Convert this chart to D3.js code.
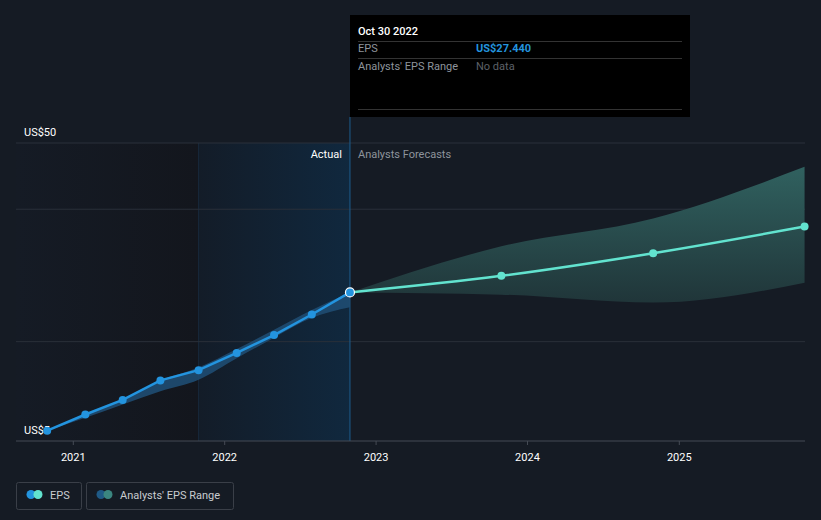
<!DOCTYPE html>
<html><head><meta charset="utf-8">
<script src="https://cdn.jsdelivr.net/npm/d3@7"></script>
<style>
html,body{margin:0;padding:0;background:#151b24;}
svg{display:block;font-family:Roboto,"Noto Sans",sans-serif;}
</style></head>
<body><svg id="c" width="821" height="520"></svg>
<script>
// ---- data ----
const actualDates = ["2020-10-30","2021-01-30","2021-04-30","2021-07-30","2021-10-30","2022-01-30","2022-04-30","2022-07-30","2022-10-30"];
const actualEPS   = [6.56, 9.0, 11.2, 14.15, 15.7, 18.3, 21.0, 24.1, 27.44];
const pastRangeLow  = [6.56, 8.5, 10.5, 12.5, 14.25, 17.5, 20.6, 23.6, 25.2];
const pastRangeHigh = [6.56, 9.0, 11.2, 14.15, 16.1, 18.9, 21.8, 24.8, 27.44];
const forecastDates = ["2022-10-30","2023-10-30","2024-10-30","2025-10-30"];
const forecastEPS   = [27.44, 29.94, 33.36, 37.38];
const forecastLow   = [27.44, 27.1, 25.9, 28.9];
const forecastHigh  = [27.44, 34.4, 38.6, 46.4];
const yearTicks = ["2021","2022","2023","2024","2025"];
const gridValues = [20, 40, 50];
const yLabels = [{v:50, t:"US$50"}, {v:5, t:"US$5"}];

const parse = d3.timeParse("%Y-%m-%d");
const svg = d3.select("#c");
const x = d3.scaleTime().domain([new Date(2021,0,1), new Date(2025,0,1)]).range([73.3, 679.3]);
const y = d3.scaleLinear().domain([5, 50]).range([441, 143]);
const L = 16, R = 805, B = 441;

const defs = svg.append("defs");
const g1 = defs.append("linearGradient").attr("id","pastG");
g1.append("stop").attr("offset","0").attr("stop-color","#151b25");
g1.append("stop").attr("offset","1").attr("stop-color","#13161d");
const g2 = defs.append("linearGradient").attr("id","hlG");
g2.append("stop").attr("offset","0").attr("stop-color","#131c28");
g2.append("stop").attr("offset","1").attr("stop-color","#10283e");
const g3 = defs.append("linearGradient").attr("id","fcG").attr("gradientUnits","userSpaceOnUse")
  .attr("x1",0).attr("x2",0).attr("y1",160).attr("y2",310);
g3.append("stop").attr("offset","0").attr("stop-color","#316361");
g3.append("stop").attr("offset","1").attr("stop-color","#1f3337");
defs.append("clipPath").attr("id","clip").append("rect").attr("x",L).attr("y",100).attr("width",R-L).attr("height",B-100);

const lastDate = parse(actualDates[actualDates.length-1]);
const hlStart = parse(actualDates[4]);
// backgrounds
svg.append("rect").attr("x",L).attr("y",143).attr("width",x(hlStart)-L).attr("height",B-143).attr("fill","url(#pastG)");
svg.append("rect").attr("x",x(hlStart)).attr("y",143).attr("width",x(lastDate)-x(hlStart)).attr("height",B-143).attr("fill","url(#hlG)");
svg.append("line").attr("x1",x(hlStart)).attr("x2",x(hlStart)).attr("y1",143).attr("y2",B).attr("stroke","#17283a").attr("stroke-width",1);

// gridlines
svg.selectAll(".grid").data(gridValues).enter().append("line")
  .attr("x1",L).attr("x2",R).attr("y1",d=>y(d)).attr("y2",d=>y(d))
  .attr("stroke","#2a303a").attr("stroke-width",1);

// separator
svg.append("line").attr("x1",x(lastDate)).attr("x2",x(lastDate)).attr("y1",117).attr("y2",B)
  .attr("stroke","#1d5c8e").attr("stroke-width",1);

// y labels
svg.selectAll(".yl").data(yLabels).enter().append("text")
  .attr("x",24).attr("y",d=>y(d.v)-7).attr("fill","#ffffff").attr("font-size",11).text(d=>d.t);

svg.append("text").attr("x",x(lastDate)-8).attr("y",158).attr("text-anchor","end").attr("fill","#ffffff").attr("font-size",11).text("Actual");
svg.append("text").attr("x",x(lastDate)+8).attr("y",158).attr("fill","#8e949c").attr("font-size",11).text("Analysts Forecasts");

const plot = svg.append("g").attr("clip-path","url(#clip)");
// past range band
const past = actualDates.map((d,i)=>({d:parse(d), v:actualEPS[i], lo:pastRangeLow[i], hi:pastRangeHigh[i]}));
plot.append("path").datum(past)
  .attr("d", d3.area().x(d=>x(d.d)).y0(d=>y(d.lo)).y1(d=>y(d.hi)).curve(d3.curveMonotoneX))
  .attr("fill","#1f4d72").attr("opacity",0.9);
// forecast band
const fc = forecastDates.map((d,i)=>({d:parse(d), v:forecastEPS[i], lo:forecastLow[i], hi:forecastHigh[i]}));
plot.append("path").datum(fc)
  .attr("d", d3.area().x(d=>x(d.d)).y0(d=>y(d.lo)).y1(d=>y(d.hi)).curve(d3.curveMonotoneX))
  .attr("fill","url(#fcG)");

// lines
plot.append("path").datum(fc).attr("d", d3.line().x(d=>x(d.d)).y(d=>y(d.v)).curve(d3.curveMonotoneX))
  .attr("fill","none").attr("stroke","#62e3cf").attr("stroke-width",2.5);
plot.append("path").datum(past).attr("d", d3.line().x(d=>x(d.d)).y(d=>y(d.v)))
  .attr("fill","none").attr("stroke","#2394df").attr("stroke-width",2.5);

// dots
svg.selectAll(".fd").data(fc.slice(1)).enter().append("circle")
  .attr("cx",d=>x(d.d)).attr("cy",d=>y(d.v)).attr("r",4).attr("fill","#62e3cf");
svg.selectAll(".ad").data(past.slice(0,-1)).enter().append("circle")
  .attr("cx",d=>x(d.d)).attr("cy",d=>y(d.v)).attr("r",4).attr("fill","#2394df");
svg.append("circle").datum(past[past.length-1]).attr("cx",d=>x(d.d)).attr("cy",d=>y(d.v)).attr("r",4.5)
  .attr("fill","#2394df").attr("stroke","#ffffff").attr("stroke-width",1.2);

// x axis
svg.append("line").attr("x1",L).attr("x2",R).attr("y1",B).attr("y2",B).attr("stroke","#454b55").attr("stroke-width",1);
const ticks = yearTicks.map(t=>new Date(+t,0,1));
svg.selectAll(".tk").data(ticks).enter().append("line")
  .attr("x1",d=>x(d)).attr("x2",d=>x(d)).attr("y1",B).attr("y2",B+4).attr("stroke","#454b55");
svg.selectAll(".tl").data(ticks).enter().append("text")
  .attr("x",d=>x(d)).attr("y",B+20).attr("text-anchor","middle").attr("fill","#ffffff").attr("font-size",11)
  .text((d,i)=>yearTicks[i]);

// tooltip
const tt = svg.append("g");
tt.append("rect").attr("x",350).attr("y",15).attr("width",340).attr("height",102).attr("fill","#000000");
tt.append("text").attr("x",358).attr("y",35).attr("fill","#ffffff").attr("font-size",11).attr("font-weight",500).text("Oct 30 2022");
[41,58,109].forEach(yy=>tt.append("line").attr("x1",358).attr("x2",682).attr("y1",yy+0.5).attr("y2",yy+0.5).attr("stroke","#333"));
tt.append("text").attr("x",358).attr("y",52).attr("fill","#8e949c").attr("font-size",11).text("EPS");
tt.append("text").attr("x",476).attr("y",52).attr("fill","#2394df").attr("font-size",11).attr("font-weight",700)
  .text("US$" + d3.format(".3f")(actualEPS[actualEPS.length-1]));
tt.append("text").attr("x",358).attr("y",70).attr("fill","#8e949c").attr("font-size",11).text("Analysts' EPS Range");
tt.append("text").attr("x",476).attr("y",70).attr("fill","#5d6168").attr("font-size",11).text("No data");

// legend
const leg = [{x:16,w:65,c1:"#2394df",c2:"#62e3cf",t:"EPS"},{x:86,w:147,c1:"#1f5a86",c2:"#3b8680",t:"Analysts' EPS Range"}];
leg.forEach(l=>{
  const g = svg.append("g");
  g.append("rect").attr("x",l.x+0.5).attr("y",482.5).attr("width",l.w).attr("height",27).attr("rx",2)
    .attr("fill","none").attr("stroke","#3a3f48");
  g.append("circle").attr("cx",l.x+15).attr("cy",494.5).attr("r",4.5).attr("fill",l.c1);
  g.append("circle").attr("cx",l.x+22).attr("cy",494.5).attr("r",4.5).attr("fill",l.c2);
  g.append("text").attr("x",l.x+34).attr("y",498.5).attr("fill","#c8ccd0").attr("font-size",11).text(l.t);
});
</script></body></html>
